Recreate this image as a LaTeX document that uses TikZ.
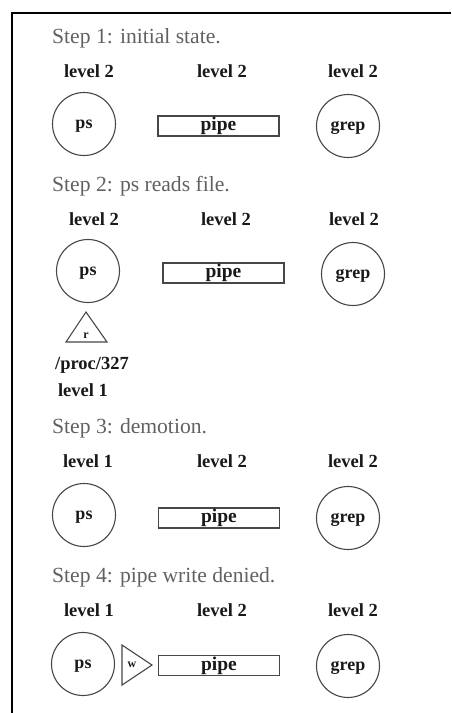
\documentclass[tikz,border=0pt]{standalone}
\usepackage{fontspec}
\setmainfont{Liberation Serif}
\begin{document}
\begin{tikzpicture}[x=1pt,y=-1pt,
 head/.style={anchor=base west, inner sep=0pt, text=black!62, font=\fontsize{21.6}{21.6}\selectfont},
 lvl/.style={anchor=base, inner sep=0pt, text=black!90, font=\fontsize{18.5}{18.5}\selectfont\bfseries},
 proc/.style={circle, draw=black!72, line width=1.1pt, minimum size=63pt, inner sep=0pt, text height=12pt, text depth=4pt, text=black!90, font=\fontsize{18}{18}\selectfont\bfseries},
 pipebox/.style={rectangle, draw=black!72, line width=1.3pt, minimum width=121pt, minimum height=20pt, inner sep=0pt, text height=13pt, text depth=4pt, text=black!90, font=\fontsize{19.5}{19.5}\selectfont\bfseries},
 tri/.style={draw=black!72, line width=1.1pt, line join=miter},
 tagtext/.style={inner sep=0pt, text=black!90, font=\fontsize{12}{12}\selectfont\bfseries},
]
\useasboundingbox (0,0) rectangle (451,713);
\draw[line width=2pt] (451,12.5) -- (11.5,12.5) -- (11.5,713);

% Step 1
\node[head] (h1) at (52,43) {Step 1: initial state.};
\node[lvl] (l1a) at (89,77) {level 2};
\node[lvl] (l1b) at (222,77) {level 2};
\node[lvl] (l1c) at (353,77) {level 2};
\node[proc] (ps1) at (84,124) {ps};
\node[pipebox] (pipe1) at (218.5,126) {pipe};
\node[proc] (grep1) at (348,126) {grep};

% Step 2
\node[head] (h2) at (52,191) {Step 2: ps reads file.};
\node[lvl] (l2a) at (94,225) {level 2};
\node[lvl] (l2b) at (226,225) {level 2};
\node[lvl] (l2c) at (354,225) {level 2};
\node[proc] (ps2) at (88,271) {ps};
\node[pipebox] (pipe2) at (223.5,273) {pipe};
\node[proc] (grep2) at (353,274) {grep};
\draw[tri] (86,312) -- (107,342) -- (66,342) -- cycle;
\node[tagtext, anchor=base] (r) at (86,338) {r};
\node[lvl] (file) at (92,369) {/proc/327};
\node[lvl] (flvl) at (83,396) {level 1};

% Step 3
\node[head] (h3) at (52,433) {Step 3: demotion.};
\node[lvl] (l3a) at (88,467) {level 1};
\node[lvl] (l3b) at (222,467) {level 2};
\node[lvl] (l3c) at (353,467) {level 2};
\node[proc] (ps3) at (84,515) {ps};
\node[pipebox] (pipe3) at (219,518) {pipe};
\node[proc] (grep3) at (348,518) {grep};

% Step 4
\node[head] (h4) at (52,582) {Step 4: pipe write denied.};
\node[lvl] (l4a) at (89,616) {level 1};
\node[lvl] (l4b) at (222,616) {level 2};
\node[lvl] (l4c) at (353,616) {level 2};
\node[proc] (ps4) at (83,664) {ps};
\draw[tri] (122,645) -- (152,665) -- (122,685) -- cycle;
\node[tagtext] (w) at (132,665) {w};
\node[pipebox] (pipe4) at (219,665.5) {pipe};
\node[proc] (grep4) at (348,666) {grep};
\end{tikzpicture}
\end{document}
